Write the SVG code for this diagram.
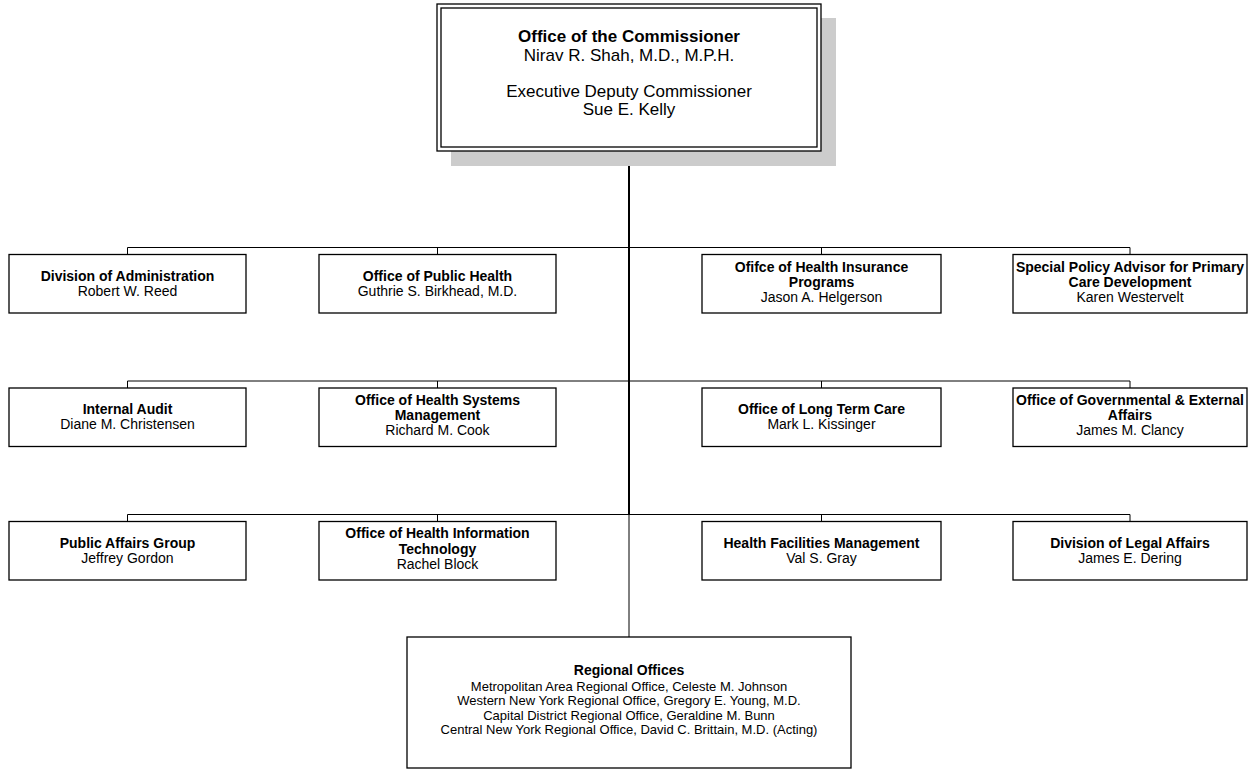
<svg xmlns="http://www.w3.org/2000/svg" width="1254" height="770" viewBox="0 0 1254 770">
<style>
.box{fill:#fff;stroke:#000;stroke-width:1.3}
.t{font-family:"Liberation Sans",Arial,sans-serif;font-size:14px;fill:#000;text-anchor:middle}
.b{font-weight:bold}
.big{font-size:17px}
.reg{font-size:13px}
.regh{font-size:14px}
.ln{stroke:#000;stroke-width:1;fill:none}
.trunk{stroke:#000;stroke-width:2;fill:none}
</style>
<rect width="1254" height="770" fill="#fff"/>
<g id="connectors">
<line class="trunk" x1="629" y1="151" x2="629" y2="515"/>
<line class="ln" x1="629" y1="515" x2="629" y2="637"/>
<polyline class="ln" points="127.5,254.5 127.5,247.5 1130,247.5 1130,254.5"/>
<line class="ln" x1="437.5" y1="247.5" x2="437.5" y2="254.5"/>
<line class="ln" x1="821.5" y1="247.5" x2="821.5" y2="254.5"/>
<polyline class="ln" points="127.5,388 127.5,381 1130,381 1130,388"/>
<line class="ln" x1="437.5" y1="381" x2="437.5" y2="388"/>
<line class="ln" x1="821.5" y1="381" x2="821.5" y2="388"/>
<polyline class="ln" points="127.5,521.5 127.5,514.5 1130,514.5 1130,521.5"/>
<line class="ln" x1="437.5" y1="514.5" x2="437.5" y2="521.5"/>
<line class="ln" x1="821.5" y1="514.5" x2="821.5" y2="521.5"/>
</g>
<g id="commissioner">
<rect x="451" y="18" width="385" height="148" fill="#cccccc"/>
<rect x="437" y="4" width="384" height="147" fill="#fff" stroke="#000" stroke-width="1.3"/>
<rect x="441" y="8" width="376" height="139" fill="none" stroke="#000" stroke-width="1.3"/>
<text class="t big b" x="629" y="42">Office of the Commissioner</text>
<text class="t big" x="629" y="60.5">Nirav R. Shah, M.D., M.P.H.</text>
<text class="t big" x="629" y="97">Executive Deputy Commissioner</text>
<text class="t big" x="629" y="115">Sue E. Kelly</text>
</g>
<g id="n-admin">
<rect class="box" x="9" y="254.5" width="237" height="58.5"/>
<text class="t b" x="127.5" y="280.5">Division of Administration</text>
<text class="t" x="127.5" y="295.5">Robert W. Reed</text>
</g>
<g id="n-publichealth">
<rect class="box" x="319" y="254.5" width="237" height="58.5"/>
<text class="t b" x="437.5" y="280.5">Office of Public Health</text>
<text class="t" x="437.5" y="295.5">Guthrie S. Birkhead, M.D.</text>
</g>
<g id="n-insurance">
<rect class="box" x="702" y="254.5" width="239" height="58.5"/>
<text class="t b" x="821.5" y="271.5">Ofifce of Health Insurance</text>
<text class="t b" x="821.5" y="286.5">Programs</text>
<text class="t" x="821.5" y="301.5">Jason A. Helgerson</text>
</g>
<g id="n-primarycare">
<rect class="box" x="1013" y="254.5" width="234" height="58.5"/>
<text class="t b" x="1130" y="271.5">Special Policy Advisor for Primary</text>
<text class="t b" x="1130" y="286.5">Care Development</text>
<text class="t" x="1130" y="301.5">Karen Westervelt</text>
</g>
<g id="n-audit">
<rect class="box" x="9" y="388" width="237" height="58.5"/>
<text class="t b" x="127.5" y="414">Internal Audit</text>
<text class="t" x="127.5" y="429">Diane M. Christensen</text>
</g>
<g id="n-hsm">
<rect class="box" x="319" y="388" width="237" height="58.5"/>
<text class="t b" x="437.5" y="404.5">Office of Health Systems</text>
<text class="t b" x="437.5" y="420">Management</text>
<text class="t" x="437.5" y="435">Richard M. Cook</text>
</g>
<g id="n-ltc">
<rect class="box" x="702" y="388" width="239" height="58.5"/>
<text class="t b" x="821.5" y="414">Office of Long Term Care</text>
<text class="t" x="821.5" y="429">Mark L. Kissinger</text>
</g>
<g id="n-gov">
<rect class="box" x="1013" y="388" width="234" height="58.5"/>
<text class="t b" x="1130" y="404.5">Office of Governmental &amp; External</text>
<text class="t b" x="1130" y="420">Affairs</text>
<text class="t" x="1130" y="435">James M. Clancy</text>
</g>
<g id="n-pag">
<rect class="box" x="9" y="521.5" width="237" height="58.5"/>
<text class="t b" x="127.5" y="547.5">Public Affairs Group</text>
<text class="t" x="127.5" y="562.5">Jeffrey Gordon</text>
</g>
<g id="n-hit">
<rect class="box" x="319" y="521.5" width="237" height="58.5"/>
<text class="t b" x="437.5" y="538">Office of Health Information</text>
<text class="t b" x="437.5" y="553.5">Technology</text>
<text class="t" x="437.5" y="568.5">Rachel Block</text>
</g>
<g id="n-hfm">
<rect class="box" x="702" y="521.5" width="239" height="58.5"/>
<text class="t b" x="821.5" y="547.5">Health Facilities Management</text>
<text class="t" x="821.5" y="562.5">Val S. Gray</text>
</g>
<g id="n-legal">
<rect class="box" x="1013" y="521.5" width="234" height="58.5"/>
<text class="t b" x="1130" y="547.5">Division of Legal Affairs</text>
<text class="t" x="1130" y="562.5">James E. Dering</text>
</g>
<g id="n-regional">
<rect class="box" x="407" y="637" width="444" height="131"/>
<text class="t regh b" x="629" y="674.5">Regional Offices</text>
<text class="t reg" x="629" y="690.5">Metropolitan Area Regional Office, Celeste M. Johnson</text>
<text class="t reg" x="629" y="705">Western New York Regional Office, Gregory E. Young, M.D.</text>
<text class="t reg" x="629" y="719.5">Capital District Regional Office, Geraldine M. Bunn</text>
<text class="t reg" x="629" y="733.5">Central New York Regional Office, David C. Brittain, M.D. (Acting)</text>
</g>
</svg>
